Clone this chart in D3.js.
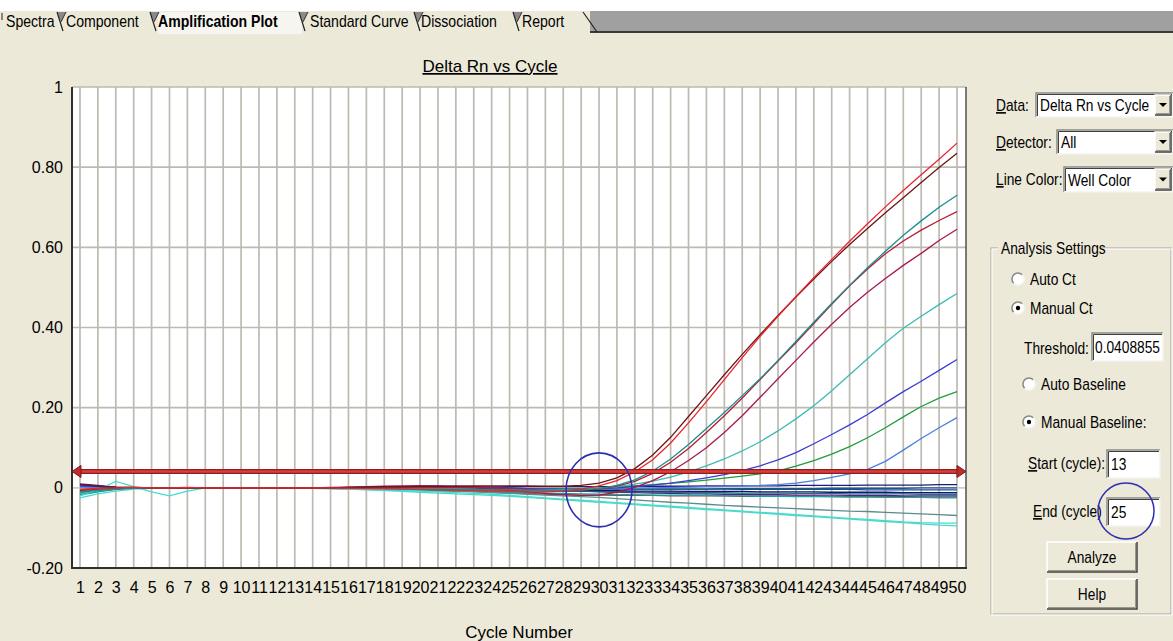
<!DOCTYPE html>
<html>
<head>
<meta charset="utf-8">
<script src="https://cdn.jsdelivr.net/npm/d3@7"></script>
<style>
  body { margin: 0; background: #ece9d8; overflow: hidden; }
  svg text { font-family: "Liberation Sans", Arial, sans-serif; fill: #000; }
</style>
</head>
<body>
<svg id="chart" width="1173" height="641"></svg>
<script>
// ---- data ----
const cycles = [1,2,3,4,5,6,7,8,9,10,11,12,13,14,15,16,17,18,19,20,21,22,23,24,25,
  26,27,28,29,30,31,32,33,34,35,36,37,38,39,40,41,42,43,44,45,46,47,48,49,50];
const yTicks = [-0.2, 0, 0.2, 0.4, 0.6, 0.8, 1];
const yTickLabels = ["-0.20", "0", "0.20", "0.40", "0.60", "0.80", "1"];
const threshold = 0.0408855;
const tabNames = ["Spectra", "Component", "Amplification Plot", "Standard Curve", "Dissociation", "Report"];

// flat wells (no amplification)
const wellNavy = [0.008,0.004,0.001,0,0,0,0,0,0,0, 0,0,0,0,0,0,0,0.001,0.001,0.001,
  0.002,0.002,0.002,0.002,0.003,0.003,0.003,0.003,0.003,0.003, 0.003,0.004,0.004,0.004,0.004,0.005,0.005,0.005,0.005,0.005,
  0.006,0.006,0.006,0.006,0.007,0.007,0.007,0.007,0.008,0.008];
const wellDarkTeal = [-0.012,-0.006,-0.002,0,0,0,0,0,0,0, 0,0,0,0,0,0,-0.001,-0.001,-0.001,-0.002,
  -0.002,-0.002,-0.003,-0.003,-0.003,-0.003,-0.003,-0.003,-0.003,-0.003, -0.003,-0.003,-0.003,-0.003,-0.003,-0.003,-0.002,-0.002,-0.002,-0.002,
  -0.002,-0.002,-0.001,-0.001,-0.001,-0.001,-0.001,0,0,0];
const wellBlue2 = [0.004,0.002,0,0,0,0,0,0,0,0, 0,0,0,0,0,0,0,0,0,-0.001,
  -0.001,-0.001,-0.001,-0.002,-0.002,-0.002,-0.002,-0.002,-0.002,-0.002, -0.002,-0.003,-0.003,-0.003,-0.003,-0.003,-0.003,-0.004,-0.004,-0.004,
  -0.004,-0.004,-0.004,-0.004,-0.005,-0.005,-0.005,-0.005,-0.005,-0.005];
const wellNavy2 = [-0.006,-0.003,-0.001,0,0,0,0,0,0,0, 0,0,0,0,0,-0.001,-0.001,-0.002,-0.002,-0.003,
  -0.003,-0.004,-0.004,-0.005,-0.005,-0.006,-0.006,-0.006,-0.007,-0.007, -0.007,-0.008,-0.008,-0.008,-0.009,-0.009,-0.009,-0.009,-0.010,-0.010,
  -0.010,-0.010,-0.011,-0.011,-0.011,-0.011,-0.012,-0.012,-0.012,-0.012];
const wellTeal2 = [-0.016,-0.009,-0.003,0,0,0,0,0,0,0, 0,0,0,0,-0.001,-0.001,-0.002,-0.003,-0.003,-0.004,
  -0.005,-0.005,-0.006,-0.006,-0.007,-0.007,-0.008,-0.008,-0.009,-0.009, -0.010,-0.010,-0.011,-0.011,-0.012,-0.012,-0.012,-0.013,-0.013,-0.013,
  -0.014,-0.014,-0.014,-0.015,-0.015,-0.015,-0.015,-0.016,-0.016,-0.016];
const wellPurple = [0.010,0.006,0.002,0.001,0,0,0,0,0,0, 0,0,0,0,0,0.001,0.002,0.003,0.003,0.004,
  0.004,0.004,0.003,0.002,0,-0.002,-0.004,-0.006,-0.008,-0.010, -0.011,-0.012,-0.013,-0.014,-0.015,-0.015,-0.016,-0.016,-0.017,-0.017,
  -0.018,-0.018,-0.018,-0.019,-0.019,-0.019,-0.020,-0.020,-0.020,-0.020];
const wellDarkCyan = [-0.018,-0.010,-0.004,-0.001,0,0,0,0,0,0, 0,0,0,0,-0.001,-0.002,-0.003,-0.004,-0.005,-0.006,
  -0.007,-0.008,-0.009,-0.010,-0.011,-0.012,-0.013,-0.014,-0.015,-0.016, -0.017,-0.017,-0.018,-0.018,-0.019,-0.019,-0.020,-0.020,-0.021,-0.021,
  -0.022,-0.022,-0.022,-0.023,-0.023,-0.024,-0.024,-0.024,-0.025,-0.025];
const wellBrown = [-0.010,-0.005,-0.002,0,0,0,0,0,0,0, 0,0,0,0,0,-0.001,-0.002,-0.003,-0.004,-0.005,
  -0.006,-0.007,-0.009,-0.011,-0.013,-0.014,-0.016,-0.017,-0.018,-0.018, -0.019,-0.019,-0.019,-0.020,-0.020,-0.020,-0.020,-0.021,-0.021,-0.021,
  -0.021,-0.021,-0.022,-0.022,-0.022,-0.022,-0.022,-0.023,-0.023,-0.023];

// drifting-down wells
const wellSlate = [-0.012,-0.006,-0.002,0,0,0,0,0,0,0, 0,0,0,-0.001,-0.002,-0.003,-0.004,-0.005,-0.006,-0.007,
  -0.008,-0.009,-0.010,-0.012,-0.014,-0.016,-0.018,-0.020,-0.022,-0.024, -0.027,-0.030,-0.033,-0.036,-0.038,-0.041,-0.044,-0.046,-0.048,-0.050,
  -0.052,-0.054,-0.056,-0.058,-0.059,-0.061,-0.063,-0.065,-0.067,-0.069];
const wellCyan = [-0.020,-0.005,0.016,0.003,-0.010,-0.020,-0.008,0,0,0, 0,0,0,0,-0.001,-0.002,-0.003,-0.005,-0.006,-0.008,
  -0.010,-0.012,-0.014,-0.016,-0.019,-0.022,-0.025,-0.028,-0.031,-0.034, -0.037,-0.040,-0.043,-0.046,-0.049,-0.052,-0.055,-0.058,-0.061,-0.064,
  -0.067,-0.070,-0.073,-0.076,-0.079,-0.082,-0.085,-0.087,-0.088,-0.088];
const wellTurquoise = [-0.025,-0.015,-0.008,-0.003,-0.001,0,0,0,0,0, 0,0,0,-0.001,-0.002,-0.003,-0.005,-0.007,-0.009,-0.011,
  -0.013,-0.015,-0.017,-0.019,-0.021,-0.024,-0.027,-0.030,-0.033,-0.036, -0.039,-0.042,-0.045,-0.048,-0.051,-0.054,-0.057,-0.060,-0.063,-0.066,
  -0.069,-0.072,-0.075,-0.078,-0.081,-0.084,-0.087,-0.090,-0.093,-0.095];

// amplifying wells
const wellRed = [-0.004,-0.002,0,0.001,0,0,0.001,0,0,0, 0,0,0,0,0,-0.001,-0.002,-0.002,-0.003,-0.004,
  -0.005,-0.006,-0.007,-0.008,-0.009,-0.010,-0.010,-0.008,-0.003,0.005, 0.018,0.040,0.070,0.112,0.162,0.215,0.270,0.325,0.378,0.428,
  0.477,0.524,0.570,0.615,0.659,0.701,0.742,0.781,0.820,0.860];
const wellMaroon = [0.008,0.004,0.002,0.001,0,0,0,0,0,0, 0,0,0,0,0,0.001,0.002,0.003,0.003,0.004,
  0.004,0.004,0.005,0.005,0.005,0.005,0.004,0.004,0.006,0.012, 0.025,0.048,0.082,0.126,0.178,0.230,0.282,0.333,0.382,0.430,
  0.476,0.521,0.565,0.607,0.647,0.686,0.724,0.762,0.799,0.835];
const wellTeal = [-0.010,-0.006,-0.003,-0.001,0,0,0,0,0,0, 0,0,0,0,0,-0.001,-0.001,-0.002,-0.002,-0.003,
  -0.003,-0.004,-0.004,-0.005,-0.005,-0.006,-0.006,-0.006,-0.005,-0.002, 0.006,0.020,0.042,0.072,0.108,0.148,0.188,0.230,0.272,0.318,
  0.365,0.413,0.460,0.505,0.549,0.590,0.630,0.666,0.700,0.730];
const wellCrimson = [-0.006,-0.004,-0.002,0,0,0,0,0,0,0, 0,0,0,0,0,0,0.001,0.002,0.002,0.002,
  0.002,0.002,0.001,0,-0.002,-0.004,-0.006,-0.007,-0.006,-0.003, 0.004,0.016,0.036,0.064,0.098,0.138,0.180,0.224,0.270,0.316,
  0.362,0.410,0.458,0.504,0.546,0.584,0.616,0.643,0.667,0.689];
const wellRose = [-0.004,-0.002,-0.001,0,0,0,0,0,0,0, 0,0,0,0,0.001,0.002,0.003,0.004,0.005,0.005,
  0.004,0.002,0,-0.003,-0.006,-0.010,-0.014,-0.017,-0.019,-0.018, -0.011,0.001,0.018,0.040,0.068,0.100,0.138,0.180,0.226,0.272,
  0.318,0.364,0.408,0.450,0.488,0.522,0.555,0.585,0.617,0.645];
const wellAqua = [-0.015,-0.008,-0.002,0,0,0,0,0,0,0, 0,0,0,0,0,-0.001,-0.001,-0.002,-0.002,-0.003,
  -0.003,-0.004,-0.004,-0.005,-0.005,-0.005,-0.005,-0.004,-0.003,-0.001, 0.003,0.009,0.017,0.027,0.040,0.055,0.072,0.092,0.115,0.142,
  0.172,0.205,0.242,0.282,0.322,0.362,0.398,0.428,0.457,0.485];
const wellBlue = [0.006,0.003,0.001,0,0,0,0,0,0,0, 0,0,0,0,0,0,0.001,0.001,0.002,0.002,
  0.002,0.002,0.001,0,-0.001,-0.002,-0.003,-0.003,-0.003,-0.002, 0,0.003,0.007,0.012,0.018,0.025,0.033,0.043,0.055,0.070,
  0.088,0.110,0.133,0.157,0.183,0.212,0.240,0.266,0.293,0.320];
const wellGreen = [-0.008,-0.004,-0.001,0,0,0,0,0,0,0, 0,0,0,0,0,0,0,-0.001,-0.001,-0.002,
  -0.002,-0.003,-0.003,-0.004,-0.004,-0.004,-0.004,-0.003,-0.002,0, 0.002,0.005,0.008,0.011,0.015,0.019,0.024,0.029,0.035,0.042,
  0.054,0.068,0.084,0.103,0.125,0.150,0.177,0.203,0.224,0.240];
const wellSky = [0.002,0.001,0,0,0,0,0,0,0,0, 0,0,0,0,0,0,0,0,-0.001,-0.001,
  -0.001,-0.002,-0.002,-0.002,-0.003,-0.003,-0.003,-0.003,-0.003,-0.002, -0.002,-0.001,0,0.001,0.002,0.003,0.004,0.005,0.006,0.008,
  0.012,0.018,0.026,0.035,0.046,0.066,0.094,0.123,0.150,0.175];

const wells = [
  {values: wellBrown, color: "#8c4a3c"},
  {values: wellDarkCyan, color: "#18a4a4"},
  {values: wellPurple, color: "#5a1e8c"},
  {values: wellTeal2, color: "#147878"},
  {values: wellNavy2, color: "#141470"},
  {values: wellBlue2, color: "#2040c8"},
  {values: wellDarkTeal, color: "#1a6060"},
  {values: wellNavy, color: "#1c1c80"},
  {values: wellSlate, color: "#5a8c8c"},
  {values: wellCyan, color: "#40e0d0"},
  {values: wellTurquoise, color: "#48d8cc"},
  {values: wellSky, color: "#4a7ee0"},
  {values: wellGreen, color: "#1e9e3c"},
  {values: wellBlue, color: "#3c3cd0"},
  {values: wellAqua, color: "#3cbcb0"},
  {values: wellRose, color: "#a8184c"},
  {values: wellCrimson, color: "#b81c30"},
  {values: wellTeal, color: "#1e8c8c"},
  {values: wellMaroon, color: "#6e1616"},
  {values: wellRed, color: "#e8242c"}
];

// ---- layout ----
const svg = d3.select("#chart");
const plotLeft = 72, plotRight = 966, plotTop = 87, plotBottom = 568;

const x = d3.scaleLinear().domain([0.553, 50.503]).range([plotLeft, plotRight]);
const y = d3.scaleLinear().domain([-0.2, 1]).range([plotBottom, plotTop]);

// narrow text: the original UI font is condensed, so squeeze Liberation Sans horizontally
function narrowText(parent, tx, ty, sx, size) {
  return parent.append("text")
    .attr("transform", "translate(" + tx + "," + ty + ") scale(" + sx + ",1)")
    .attr("font-size", size);
}

// ---- tab strip ----
let tabs = svg.append("g");
tabs.append("rect").attr("x", 0).attr("y", 0).attr("width", 1173).attr("height", 11).attr("fill", "#ffffff");
tabs.append("rect").attr("x", 0).attr("y", 11).attr("width", 1173).attr("height", 21).attr("fill", "#a0a0a0");
tabs.append("rect").attr("x", 0).attr("y", 31).attr("width", 1173).attr("height", 2).attr("fill", "#3a3a3a");
tabs.append("rect").attr("x", 0).attr("y", 11).attr("width", 590).attr("height", 22).attr("fill", "#ece9d8");

let tabEdges = [0, 62, 155, 304, 419, 518, 585];
let tabTextX = [6, 66, 158, 310, 421, 522];
for (let i = 0; i < tabNames.length; i++) {
  let x0 = tabEdges[i], x1 = tabEdges[i + 1];
  if (i == 2) {
    tabs.append("rect").attr("x", x0 + 3).attr("y", 12).attr("width", x1 - x0 - 5).attr("height", 22).attr("fill", "#f6f5ef");
  }
  narrowText(tabs, tabTextX[i], 27, 0.88, "16px")
    .attr("font-weight", i == 2 ? "bold" : "normal")
    .text(tabNames[i]);
}
// slanted tab separators (the "Y" notches between tabs)
for (let i = 1; i < tabEdges.length - 1; i++) {
  let sx = tabEdges[i];
  tabs.append("path")
    .attr("d", "M" + (sx - 5) + ",12 L" + (sx + 4) + ",12 L" + (sx - 1) + ",22 Z")
    .attr("fill", "#8a8a8a");
  tabs.append("path")
    .attr("d", "M" + (sx - 5) + ",12 L" + (sx + 1) + ",31")
    .attr("stroke", "#202020").attr("stroke-width", 1.2).attr("fill", "none");
  tabs.append("path")
    .attr("d", "M" + (sx + 4) + ",12 L" + (sx - 1) + ",22")
    .attr("stroke", "#303030").attr("stroke-width", 1).attr("fill", "none");
}
tabs.append("path").attr("d", "M583,12 L597,32").attr("stroke", "#202020").attr("stroke-width", 1.2).attr("fill", "none");
tabs.append("path").attr("d", "M2,13 L2,20").attr("stroke", "#202020").attr("fill", "none");

// ---- plot ----
let g = svg.append("g");

g.append("rect")
  .attr("x", plotLeft).attr("y", plotTop)
  .attr("width", plotRight - plotLeft).attr("height", plotBottom - plotTop)
  .attr("fill", "#ffffff");

g.append("g")
  .selectAll("line")
  .data(cycles)
  .enter()
  .append("line")
  .attr("x1", d => x(d)).attr("x2", d => x(d))
  .attr("y1", plotTop).attr("y2", plotBottom)
  .attr("stroke", "#bdbab1").attr("stroke-width", 1.7);

g.append("g")
  .selectAll("line")
  .data(yTicks.filter(d => d > -0.2))
  .enter()
  .append("line")
  .attr("x1", plotLeft).attr("x2", plotRight)
  .attr("y1", d => y(d)).attr("y2", d => y(d))
  .attr("stroke", d => d == 0 ? "#d0cec8" : "#bdbab1").attr("stroke-width", 1.7);

// frame
g.append("line").attr("x1", plotRight).attr("x2", plotRight).attr("y1", plotTop).attr("y2", plotBottom)
  .attr("stroke", "#505050").attr("stroke-width", 1.5);
g.append("line").attr("x1", plotLeft).attr("x2", plotLeft).attr("y1", plotTop).attr("y2", plotBottom + 1)
  .attr("stroke", "#303030").attr("stroke-width", 2);
g.append("line").attr("x1", plotLeft).attr("x2", plotRight + 1).attr("y1", plotBottom).attr("y2", plotBottom)
  .attr("stroke", "#303030").attr("stroke-width", 2);

// axes
let yAxis = d3.axisLeft(y)
  .tickValues(yTicks)
  .tickFormat((d, i) => yTickLabels[i])
  .tickSize(0)
  .tickPadding(9);
let yg = g.append("g")
  .attr("transform", "translate(" + plotLeft + ",0)")
  .call(yAxis);
yg.select(".domain").remove();
yg.selectAll("text").attr("font-size", "16px").attr("font-family", null).style("fill", "#000");

let xAxis = d3.axisBottom(x)
  .tickValues(cycles)
  .tickFormat(d => d)
  .tickSize(0)
  .tickPadding(14);
let xg = g.append("g")
  .attr("transform", "translate(0," + plotBottom + ")")
  .call(xAxis);
xg.select(".domain").remove();
xg.selectAll("text").attr("font-size", "16px").attr("font-family", null).style("fill", "#000");

// titles
g.append("text")
  .attr("x", 490).attr("y", 72)
  .attr("text-anchor", "middle")
  .attr("font-size", "17px")
  .attr("text-decoration", "underline")
  .text("Delta Rn vs Cycle");

g.append("text")
  .attr("x", (plotLeft + plotRight) / 2).attr("y", 638)
  .attr("text-anchor", "middle")
  .attr("font-size", "17px")
  .text("Cycle Number");

// amplification curves
let line = d3.line()
  .x((d, i) => x(cycles[i]))
  .y(d => y(d));

g.append("g")
  .selectAll("path")
  .data(wells)
  .enter()
  .append("path")
  .attr("d", d => line(d.values))
  .attr("fill", "none")
  .attr("stroke", d => d.color)
  .attr("stroke-width", 1.3);

// threshold line with arrows
let ty = y(threshold);
g.append("line").attr("x1", plotLeft + 6).attr("x2", plotRight - 6).attr("y1", ty).attr("y2", ty)
  .attr("stroke", "#8e1e1e").attr("stroke-width", 5);
g.append("line").attr("x1", plotLeft + 6).attr("x2", plotRight - 6).attr("y1", ty).attr("y2", ty)
  .attr("stroke", "#dc3c3c").attr("stroke-width", 2.5);
g.append("path")
  .attr("d", "M" + plotLeft + "," + ty + " L" + (plotLeft + 9) + "," + (ty - 6) + " L" + (plotLeft + 9) + "," + (ty + 6) + " Z")
  .attr("fill", "#c02c2c").attr("stroke", "#7a1a1a").attr("stroke-width", 1);
g.append("path")
  .attr("d", "M" + plotRight + "," + ty + " L" + (plotRight - 9) + "," + (ty - 6) + " L" + (plotRight - 9) + "," + (ty + 6) + " Z")
  .attr("fill", "#c02c2c").attr("stroke", "#7a1a1a").attr("stroke-width", 1);

// hand-drawn highlight circle around the crossing point
g.append("ellipse")
  .attr("cx", x(30)).attr("cy", y(0) + 2)
  .attr("rx", 33).attr("ry", 37)
  .attr("fill", "none").attr("stroke", "#2e2eb4").attr("stroke-width", 1.6);

// ---- right panel ----
let panel = svg.append("g");
const panelScale = 0.86;

function sunken(px, py, w, h) {
  panel.append("rect").attr("x", px).attr("y", py).attr("width", w).attr("height", h).attr("fill", "#ffffff");
  panel.append("path").attr("d", "M" + px + "," + (py + h) + " L" + px + "," + py + " L" + (px + w) + "," + py)
    .attr("stroke", "#8a8a84").attr("stroke-width", 1.5).attr("fill", "none");
  panel.append("path").attr("d", "M" + (px + 1.5) + "," + (py + h - 1) + " L" + (px + 1.5) + "," + (py + 1.5) + " L" + (px + w - 1) + "," + (py + 1.5))
    .attr("stroke", "#404040").attr("stroke-width", 1).attr("fill", "none");
  panel.append("path").attr("d", "M" + px + "," + (py + h) + " L" + (px + w) + "," + (py + h) + " L" + (px + w) + "," + py)
    .attr("stroke", "#f4f3ee").attr("stroke-width", 1.5).attr("fill", "none");
}

function raised(px, py, w, h) {
  panel.append("rect").attr("x", px).attr("y", py).attr("width", w).attr("height", h).attr("fill", "#ece9d8");
  panel.append("path").attr("d", "M" + px + "," + (py + h) + " L" + px + "," + py + " L" + (px + w) + "," + py)
    .attr("stroke", "#ffffff").attr("stroke-width", 1.5).attr("fill", "none");
  panel.append("path").attr("d", "M" + px + "," + (py + h) + " L" + (px + w) + "," + (py + h) + " L" + (px + w) + "," + py)
    .attr("stroke", "#404040").attr("stroke-width", 1.5).attr("fill", "none");
  panel.append("path").attr("d", "M" + (px + 1) + "," + (py + h - 1.5) + " L" + (px + w - 1.5) + "," + (py + h - 1.5) + " L" + (px + w - 1.5) + "," + (py + 1))
    .attr("stroke", "#9a988e").attr("stroke-width", 1).attr("fill", "none");
}

function label(tx, ty, first, rest) {
  let t = narrowText(panel, tx, ty, panelScale, "16px");
  if (first) t.append("tspan").attr("text-decoration", "underline").text(first);
  t.append("tspan").text(rest);
  return t;
}

function dropdown(px, py, w, h, value) {
  sunken(px, py, w, h);
  narrowText(panel, px + 4, py + h / 2 + 6, panelScale, "16px").text(value);
  raised(px + w - 18, py + 2, 16, h - 4);
  let cx = px + w - 10, cy = py + h / 2;
  panel.append("path").attr("d", "M" + (cx - 4) + "," + (cy - 2) + " L" + (cx + 4) + "," + (cy - 2) + " L" + cx + "," + (cy + 2) + " Z")
    .attr("fill", "#000");
}

function radio(cx, cy, checked) {
  panel.append("circle").attr("cx", cx).attr("cy", cy).attr("r", 6).attr("fill", "#ffffff");
  panel.append("path").attr("d", d3.arc()({innerRadius: 5.3, outerRadius: 6.8, startAngle: -Math.PI * 0.75, endAngle: Math.PI * 0.25}))
    .attr("transform", "translate(" + cx + "," + cy + ")").attr("fill", "#8a8a84");
  panel.append("path").attr("d", d3.arc()({innerRadius: 5.3, outerRadius: 6.8, startAngle: Math.PI * 0.25, endAngle: Math.PI * 1.25}))
    .attr("transform", "translate(" + cx + "," + cy + ")").attr("fill", "#f6f5f0");
  if (checked) panel.append("circle").attr("cx", cx).attr("cy", cy).attr("r", 2.2).attr("fill", "#000");
}

label(996, 111, "D", "ata:");
dropdown(1036, 93, 137, 24, "Delta Rn vs Cycle");
label(996, 148, "D", "etector:");
dropdown(1057, 130, 116, 24, "All");
label(996, 185, "L", "ine Color:");
dropdown(1064, 167, 109, 25, "Well Color");

// group box
panel.append("rect").attr("x", 991).attr("y", 248).attr("width", 180).attr("height", 366)
  .attr("fill", "none").attr("stroke", "#a5a298").attr("stroke-width", 1);
panel.append("rect").attr("x", 992).attr("y", 249).attr("width", 180).attr("height", 366)
  .attr("fill", "none").attr("stroke", "#ffffff").attr("stroke-width", 1);
panel.append("rect").attr("x", 998).attr("y", 240).attr("width", 102).attr("height", 16).attr("fill", "#ece9d8");
label(1001, 254, null, "Analysis Settings");

radio(1018, 279, false);
label(1030, 285, null, "Auto Ct");
radio(1018, 308, true);
label(1030, 314, null, "Manual Ct");

label(1024, 354, null, "Threshold:");
sunken(1092, 333, 71, 28);
narrowText(panel, 1095, 353, panelScale, "16px").text("0.0408855");

radio(1029, 384, false);
label(1041, 390, null, "Auto Baseline");
radio(1029, 422, true);
label(1041, 428, null, "Manual Baseline:");

label(1028, 469, "S", "tart (cycle):");
sunken(1107, 450, 53, 28);
narrowText(panel, 1111, 470, panelScale, "16px").text("13");

label(1033, 517, "E", "nd (cycle)");
sunken(1107, 498, 53, 28);
narrowText(panel, 1111, 518, panelScale, "16px").text("25");

panel.append("circle").attr("cx", 1126).attr("cy", 511).attr("r", 28)
  .attr("fill", "none").attr("stroke", "#2e2eb4").attr("stroke-width", 1.5);

raised(1047, 542, 90, 30);
narrowText(panel, 1092, 563, panelScale, "16px").attr("text-anchor", "middle").text("Analyze");
raised(1047, 579, 90, 30);
narrowText(panel, 1092, 600, panelScale, "16px").attr("text-anchor", "middle").text("Help");
</script>
</body>
</html>
